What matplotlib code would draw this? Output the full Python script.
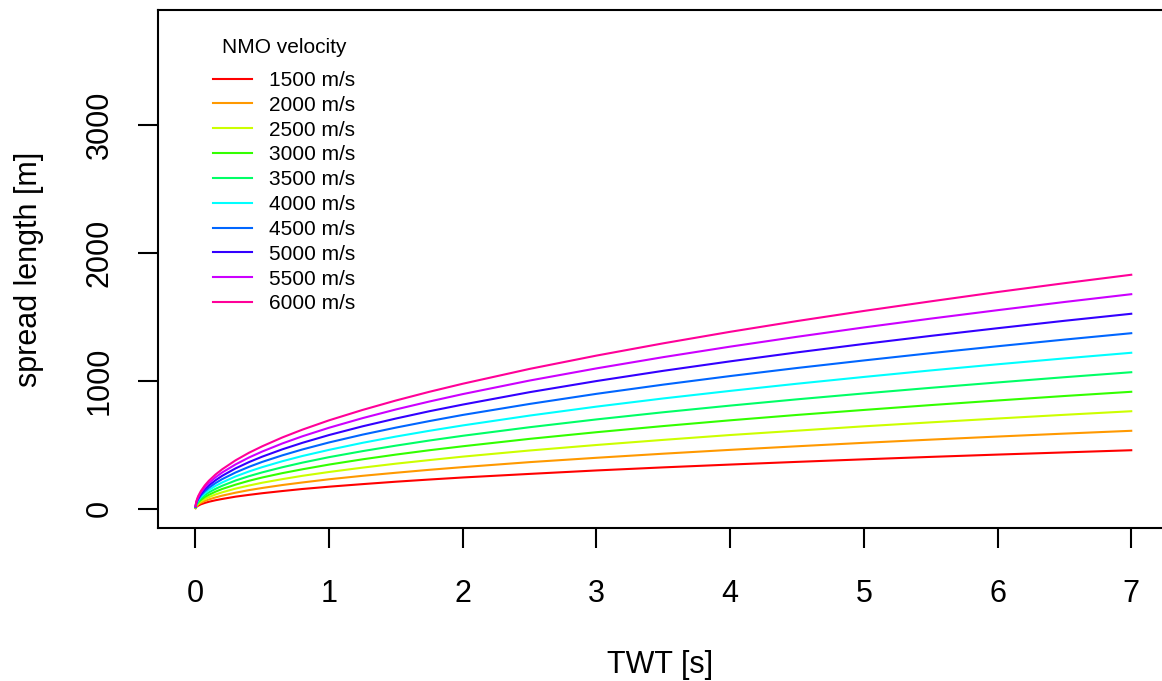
import matplotlib.pyplot as plt

plt.rcParams['font.family'] = ['Liberation Sans', 'DejaVu Sans']

# TWT sample times [s]
twt = [0.001, 0.005, 0.01, 0.02, 0.04, 0.07, 0.1, 0.15, 0.2, 0.3, 0.4, 0.5, 0.65, 0.8,
       1, 1.25, 1.5, 1.75, 2, 2.5, 3, 3.5, 4, 4.5, 5, 5.5, 6, 6.5, 7]

# spread length [m], one list per NMO velocity
v1500 = [5, 12, 17, 24, 35, 46, 55, 67, 77, 95, 109, 122, 139, 155,
         173, 193, 212, 229, 245, 273, 300, 324, 346, 367, 387, 406, 424, 441, 458]
v2000 = [7, 16, 23, 33, 46, 61, 73, 89, 103, 126, 146, 163, 186, 206,
         231, 258, 282, 305, 326, 365, 399, 431, 461, 489, 516, 541, 565, 588, 610]
v2500 = [9, 20, 29, 41, 58, 76, 91, 112, 129, 158, 182, 204, 232, 258,
         288, 322, 353, 381, 408, 456, 499, 539, 577, 611, 645, 676, 706, 735, 763]
v3000 = [11, 24, 35, 49, 69, 92, 109, 134, 155, 189, 219, 245, 279, 309,
         346, 387, 424, 458, 489, 547, 599, 647, 692, 734, 773, 811, 847, 882, 915]
v3500 = [13, 29, 40, 57, 81, 107, 128, 156, 180, 221, 255, 285, 325, 361,
         404, 451, 494, 534, 571, 638, 699, 755, 807, 856, 902, 946, 988, 1029, 1068]
v4000 = [15, 33, 46, 65, 92, 122, 146, 179, 206, 253, 292, 326, 372, 413,
         461, 516, 565, 610, 652, 729, 799, 863, 922, 978, 1031, 1082, 1130, 1176, 1220]
v4500 = [16, 37, 52, 73, 104, 137, 164, 201, 232, 284, 328, 367, 418, 464,
         519, 580, 635, 686, 734, 820, 899, 971, 1038, 1101, 1160, 1217, 1271, 1323, 1373]
v5000 = [18, 41, 58, 82, 115, 153, 182, 223, 258, 316, 365, 408, 465, 516,
         577, 645, 706, 763, 815, 912, 999, 1079, 1153, 1223, 1289, 1352, 1412, 1470, 1525]
v5500 = [20, 45, 63, 90, 127, 168, 201, 246, 284, 347, 401, 448, 511, 567,
         634, 709, 777, 839, 897, 1003, 1098, 1186, 1268, 1345, 1418, 1487, 1553, 1617, 1678]
v6000 = [22, 49, 69, 98, 138, 183, 219, 268, 309, 379, 438, 489, 558, 619,
         692, 773, 847, 915, 978, 1094, 1198, 1294, 1384, 1468, 1547, 1622, 1695, 1764, 1830]

series = [v1500, v2000, v2500, v3000, v3500, v4000, v4500, v5000, v5500, v6000]
labels = ["1500 m/s", "2000 m/s", "2500 m/s", "3000 m/s", "3500 m/s",
          "4000 m/s", "4500 m/s", "5000 m/s", "5500 m/s", "6000 m/s"]
colors = ["#FF0000", "#FF9900", "#CCFF00", "#33FF00", "#00FF66",
          "#00FFFF", "#0066FF", "#3300FF", "#CC00FF", "#FF0099"]

W, H = 1162, 681
fig = plt.figure(figsize=(W / 100, H / 100), dpi=100)
ax = fig.add_axes([158 / W, 1 - 528 / H, 1 - 158 / W, (528 - 10) / H])

for ys, lab, c in zip(series, labels, colors):
    ax.plot(twt, ys, color=c, lw=1.5, label=lab)

ax.set_xlim(-0.28, 7.23)
ax.set_ylim(-150, 3900)
ax.set_xticks(range(0, 8))
ax.set_yticks([0, 1000, 2000, 3000])
ax.spines['right'].set_visible(False)
for s in ['left', 'top', 'bottom']:
    ax.spines[s].set_linewidth(1.5)
ax.tick_params(axis='both', length=14.4, width=1.5, labelsize=22)
ax.tick_params(axis='x', pad=22)
ax.tick_params(axis='y', pad=17)
for t in ax.get_yticklabels():
    t.set_rotation(90)
    t.set_va('center')

ax.set_xlabel("TWT [s]", fontsize=22, labelpad=30)
ax.set_ylabel("spread length [m]", fontsize=22, labelpad=29)

leg = ax.legend(title="NMO velocity", loc='upper left', frameon=False,
                bbox_to_anchor=(213 / W, 1 - 38 / H), bbox_transform=fig.transFigure,
                fontsize=15, title_fontsize=15, borderpad=0, borderaxespad=0,
                handlelength=1.85, handletextpad=0.85, labelspacing=0.28)
# extra gap between the legend title and the first entry
leg._legend_box.sep = 10

fig.savefig("out.png", dpi=100)
